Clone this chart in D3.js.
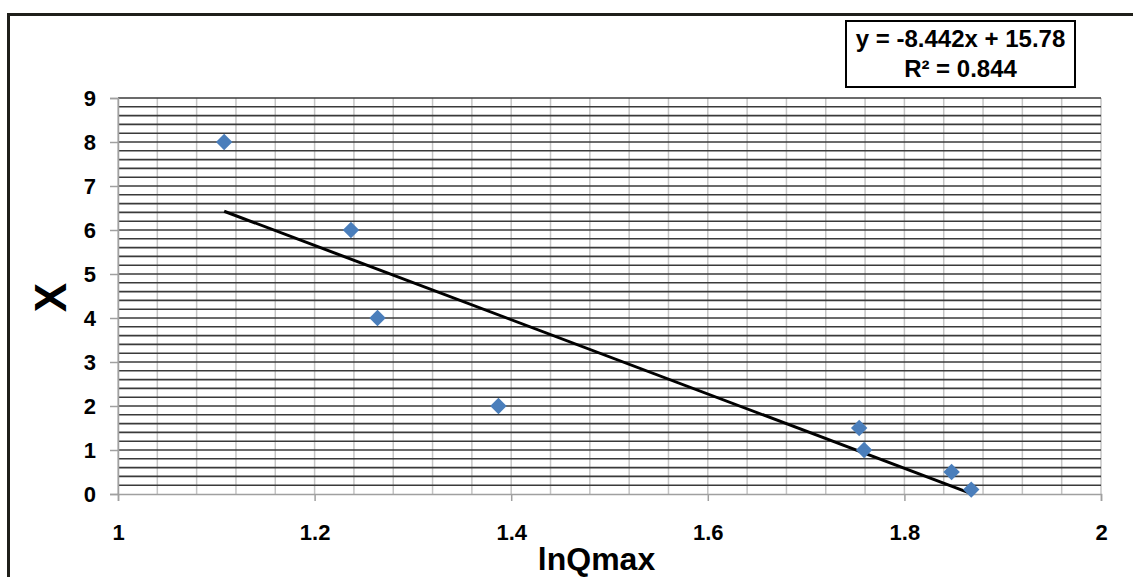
<!DOCTYPE html>
<html>
<head>
<meta charset="utf-8">
<script src="https://cdn.jsdelivr.net/npm/d3@7"></script>
<style>
  body { margin: 0; background: #fff; }
  svg { display: block; font-family: Arial, "Liberation Sans", sans-serif; }
</style>
</head>
<body>
<script>
// values
const lnQmax = [1.108, 1.237, 1.264, 1.387, 1.754, 1.759, 1.848, 1.868];
const xVals  = [8, 6, 4, 2, 1.5, 1, 0.5, 0.1];
const slope = -8.442, intercept = 15.78;
const eqLines = ["y = -8.442x + 15.78", "R\u00b2 = 0.844"];
const xTicks = [1, 1.2, 1.4, 1.6, 1.8, 2];
const yTicks = [0, 1, 2, 3, 4, 5, 6, 7, 8, 9];

const W = 1133, H = 577;
const margin = { top: 98, right: 32, bottom: 83, left: 118 },
    width = W - margin.left - margin.right,
    height = H - margin.top - margin.bottom;

const root = d3.select("body").append("svg")
    .attr("width", W)
    .attr("height", H);

// outer chart border (only top + left visible in the crop)
root.append("path")
    .attr("d", `M8.5,${H} V14.5 H${W}`)
    .attr("fill", "none")
    .attr("stroke", "#1f1f1a")
    .attr("stroke-width", 3);

const svg = root.append("g")
    .attr("transform", `translate(${margin.left},${margin.top})`);

const x = d3.scaleLinear().domain([1, 2]).range([0, width]);
const y = d3.scaleLinear().domain([0, 9]).range([height, 0]);

// vertical minor gridlines every 0.04
svg.append("g")
    .selectAll("line")
    .data(d3.range(1, 2.0001, 0.04))
    .enter().append("line")
    .attr("x1", d => x(d)).attr("x2", d => x(d))
    .attr("y1", 0).attr("y2", height)
    .attr("stroke", "#c4c4c4")
    .attr("stroke-width", 1.5);

// horizontal gridlines every 0.2
svg.append("g")
    .selectAll("line")
    .data(d3.range(0.2, 9.0001, 0.2))
    .enter().append("line")
    .attr("x1", 0).attr("x2", width)
    .attr("y1", d => y(d)).attr("y2", d => y(d))
    .attr("stroke", "#3a3a3a")
    .attr("stroke-width", 1.6);

// axes
const xAxis = svg.append("g")
    .attr("transform", `translate(0,${height})`)
    .call(d3.axisBottom(x).tickValues(xTicks).tickSize(7).tickFormat(d3.format("")));
const yAxis = svg.append("g")
    .call(d3.axisLeft(y).tickValues(yTicks).tickSize(8).tickFormat(d3.format("")));

[xAxis, yAxis].forEach(a => {
    a.select(".domain").attr("stroke", "#a0a0a0").attr("stroke-width", 1.5);
    a.selectAll(".tick line").attr("stroke", "#a0a0a0").attr("stroke-width", 1.5);
    a.selectAll("text")
        .attr("fill", "#000")
        .style("font-size", "22px")
        .style("font-weight", "bold")
        .style("font-family", "Arial, 'Liberation Sans', sans-serif");
});
xAxis.selectAll("text").attr("dy", "0").attr("y", 46);
yAxis.selectAll("text").attr("x", -22);

// trendline over the data range
const data = lnQmax.map((v, i) => ({ lq: v, val: xVals[i] }));
const ext = d3.extent(lnQmax);
const line = d3.line()
    .x(d => x(d))
    .y(d => y(slope * d + intercept));
svg.append("path")
    .datum(ext)
    .attr("fill", "none")
    .attr("stroke", "#000")
    .attr("stroke-width", 3)
    .attr("d", line);

// diamond markers
svg.selectAll("path.pt")
    .data(data)
    .enter().append("path")
    .attr("class", "pt")
    .attr("d", d3.symbol().type(d3.symbolSquare).size(135))
    .attr("transform", d => `translate(${x(d.lq)},${y(d.val)}) rotate(45)`)
    .attr("fill", "#4a7ebb");

// axis titles
svg.append("text")
    .attr("x", width / 2 - 13)
    .attr("y", height + 76)
    .attr("text-anchor", "middle")
    .style("font-size", "32px")
    .style("font-weight", "bold")
    .text("lnQmax");

svg.append("text")
    .attr("transform", `translate(${50 - margin.left},${height / 2 + 1.5}) rotate(-90)`)
    .attr("text-anchor", "middle")
    .attr("dy", "0.36em")
    .style("font-size", "44px")
    .style("font-weight", "bold")
    .text("X");

// equation box
const box = root.append("g").attr("transform", "translate(846,21)");
box.append("rect")
    .attr("width", 229).attr("height", 66)
    .attr("fill", "#fff")
    .attr("stroke", "#000")
    .attr("stroke-width", 2);
box.selectAll("text.eq")
    .data(eqLines)
    .enter().append("text")
    .attr("class", "eq")
    .attr("x", 114.5)
    .attr("y", (d, i) => 25.5 + i * 30)
    .attr("text-anchor", "middle")
    .style("font-size", "24px")
    .style("font-weight", "bold")
    .text(d => d);
</script>
</body>
</html>
